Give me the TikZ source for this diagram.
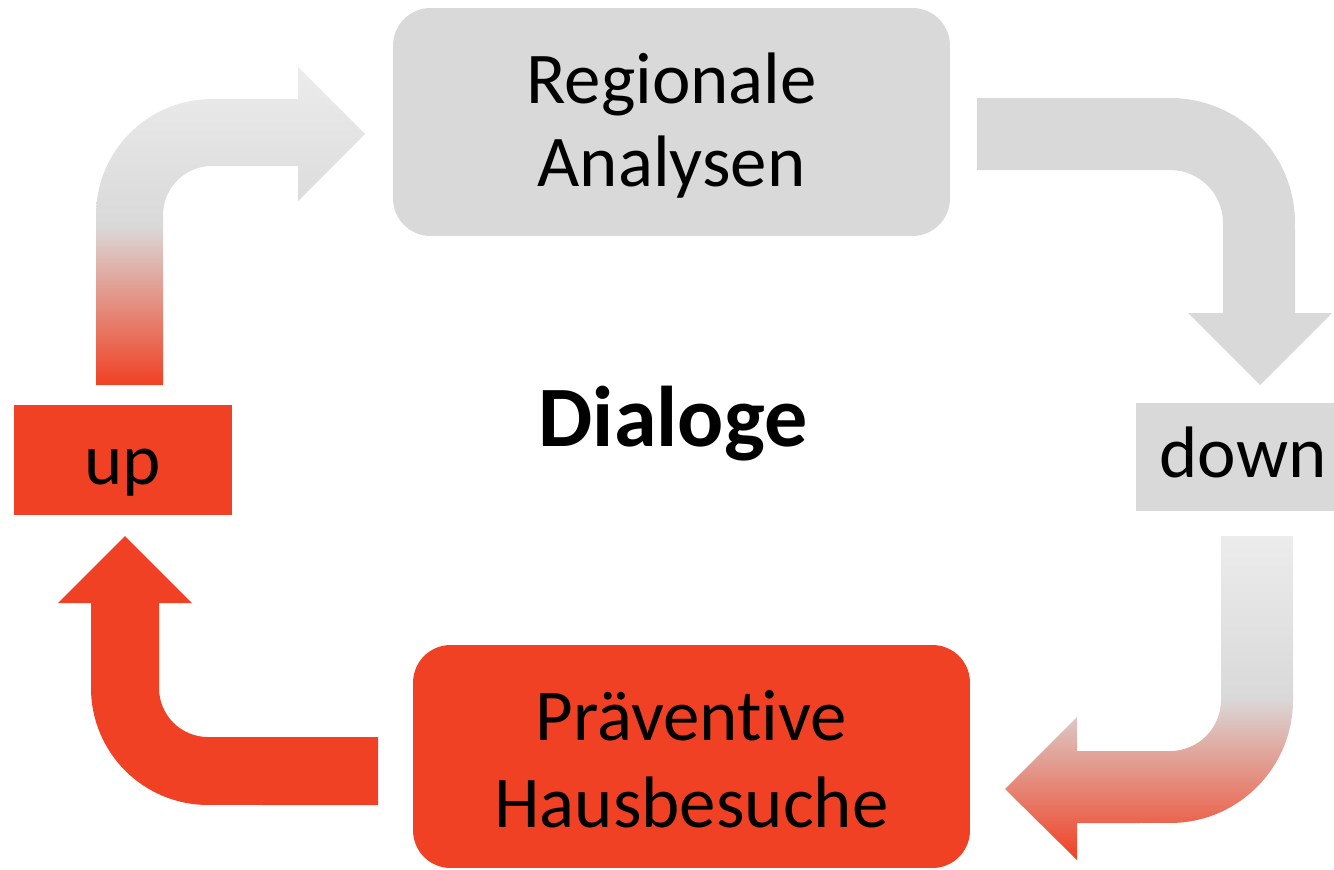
\documentclass[tikz,border=0pt]{standalone}
\usepackage{fontspec}
\setmainfont{Carlito}[Ligatures=NoCommon]
\definecolor{hbred}{RGB}{240,65,36}
\definecolor{hbgray}{RGB}{217,217,217}
\definecolor{hblight}{RGB}{236,236,236}

\begin{document}
\begin{tikzpicture}[x=0.02cm, y=-0.02cm,
    roundbox/.style={rounded corners=0.75cm, inner sep=0pt, minimum width=11.14cm},
    boxtext/.style={inner sep=0pt, align=center, font=\fontsize{41.5}{48}\selectfont},
    flatbox/.style={inner sep=0pt, text depth=0.1cm, font=\fontsize{41.5}{48}\selectfont},
    redtogray/.style={top color=hblight, bottom color=hbred, middle color=hbgray}]
    \useasboundingbox (0,0) rectangle (1334,869);

    % Kaesten
    \node [roundbox, fill=hbgray, minimum height=4.56cm] (reg) at (671.5,122) {};
    \node [boxtext, font=\fontsize{41.5}{47.3}\selectfont] (regtxt) at ([yshift=-0.08cm]reg.center) {Regionale\\Analysen};
    \node [roundbox, fill=hbred, minimum height=4.46cm] (prae) at (691.5,756.5) {};
    \node [boxtext, font=\fontsize{41.5}{49.5}\selectfont] (praetxt) at ([yshift=-0.06cm]prae.center) {Präventive\\Hausbesuche};
    \node [flatbox, fill=hbred, minimum width=4.36cm, minimum height=2.2cm, text height=1.06cm] (up) at (123,460) {up};
    \node [flatbox, fill=hbgray, minimum width=4.28cm, minimum height=2.16cm, text height=0.9cm] (down) at (1243,457) {down};
    \node [font=\fontsize{49}{58}\selectfont\bfseries, anchor=base] (dlg) at (673,446) {Dialoge};

    % Pfeil up -> Regionale Analysen
    \shade [redtogray] (96,385) -- (96,215) arc [start angle=180, end angle=90, radius=2.32cm]
        -- (298,99) -- (298,67) -- (365,134) -- (298,201) -- (298,166) -- (212,166)
        arc [start angle=90, end angle=180, radius=0.98cm] -- (163,385) -- cycle;

    % Pfeil Regionale Analysen -> down
    \fill [hbgray] (977,98) -- (1170,98) arc [start angle=90, end angle=0, radius=2.5cm]
        -- (1295,313) -- (1332,313) -- (1260,385) -- (1188,313) -- (1223,313) -- (1223,223)
        arc [start angle=0, end angle=90, radius=1.06cm] -- (977,170) -- cycle;

    % Pfeil down -> Praeventive Hausbesuche
    \shade [redtogray] (1221,536) -- (1293,536) -- (1293,700) arc [start angle=0, end angle=-90, radius=2.46cm]
        -- (1077,823) -- (1077,860) -- (1005,789) -- (1077,717) -- (1077,751) -- (1170,751)
        arc [start angle=-90, end angle=0, radius=1.02cm] -- cycle;

    % Pfeil Praeventive Hausbesuche -> up
    \fill [hbred] (378,737) -- (208,737) arc [start angle=-90, end angle=-180, radius=0.98cm]
        -- (159,603) -- (192,603) -- (125,536) -- (58,603) -- (91,603) -- (91,688)
        arc [start angle=180, end angle=270, radius=2.34cm] -- (378,805) -- cycle;
\end{tikzpicture}
\end{document}
